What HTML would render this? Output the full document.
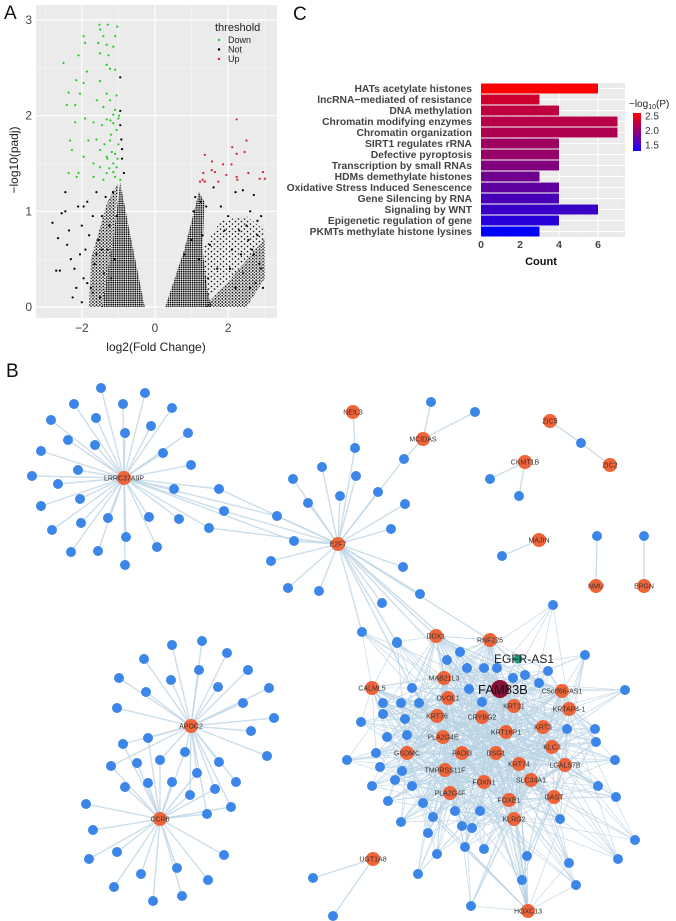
<!DOCTYPE html>
<html><head><meta charset="utf-8"><style>
html,body{margin:0;padding:0;background:#fff;}
svg{display:block;font-family:"Liberation Sans",Arial,sans-serif;}
</style></head><body>
<svg id="fig" width="676" height="921" viewBox="0 0 676 921" xmlns="http://www.w3.org/2000/svg">
<defs>
<pattern id="dotsDense" width="2.2" height="2.2" patternUnits="userSpaceOnUse"><circle cx="1.1" cy="1.1" r="0.85" fill="#000"/></pattern>
<pattern id="dotsMid" width="3.4" height="3.1" patternUnits="userSpaceOnUse"><circle cx="1.2" cy="1.2" r="0.85" fill="#000"/><circle cx="2.9" cy="2.7" r="0.7" fill="#000"/></pattern>
<pattern id="dotsSparse" width="6" height="5" patternUnits="userSpaceOnUse"><circle cx="1.5" cy="1.5" r="0.8" fill="#000"/><circle cx="4.5" cy="4" r="0.8" fill="#000"/></pattern>
</defs>
<text x="4" y="19" font-size="19" fill="#111">A</text>
<text x="293" y="20" font-size="19" fill="#111">C</text>
<text x="6" y="377" font-size="19" fill="#111">B</text>
<g id="volcano"></g>
<g id="bars"></g>
<g id="net"></g>
</svg>
<script>
// ---------- Panel A data ----------
const xTicksA = [-2, 0, 2];
const yTicksA = [0, 1, 2, 3];
const downX = [-1.52,-1.29,-1.03,-1.5,-1.95,-1.41,-1.09,-1.55,-1.91,-1.32,-1.14,-2.09,-1.5,-1.27,-2.5,-1.32,-1.23,-1.09,-1.86,-2.15,-1.5,-1.95,-2.36,-2.05,-1.32,-1.05,-1.59,-1.23,-2.18,-2.41,-1.41,-1.09,-1.14,-1.91,-1.32,-1.0,-2.18,-1.68,-1.14,-2.32,-1.82,-1.23,-2.27,-1.5,-1.09,-1.32,-1.95,-1.68,-1.14,-1.5,-2.36,-2.09,-1.32,-1.09,-1.68,-1.41,-1.05,-2.14,-1.14,-0.95,-1.2,-1.0,-1.3,-1.05,-1.45,-0.98,-1.25,-1.6,-1.18,-1.38,-1.02,-1.22];
const downY = [2.95,2.95,2.93,2.9,2.83,2.83,2.83,2.76,2.76,2.74,2.72,2.63,2.65,2.63,2.55,2.53,2.49,2.48,2.46,2.37,2.36,2.34,2.24,2.23,2.23,2.21,2.16,2.16,2.11,2.11,2.09,2.06,2.01,1.97,1.96,1.97,1.93,1.93,1.92,1.74,1.74,1.74,1.64,1.64,1.6,1.57,1.57,1.5,1.5,1.46,1.4,1.4,1.4,1.36,1.36,1.33,1.46,1.36,1.41,1.33,1.8,1.7,1.55,1.85,1.9,2.0,1.45,1.75,1.62,1.7,1.55,1.95];
const upX = [2.23,2.5,2.11,2.45,2.23,1.36,1.56,1.86,2.09,1.55,1.64,1.32,2.55,2.95,1.95,2.23,1.3,1.36,1.73,2.86,3.0,2.25,1.23];
const upY = [1.96,1.74,1.67,1.62,1.6,1.59,1.52,1.49,1.49,1.43,1.41,1.4,1.4,1.41,1.38,1.36,1.33,1.31,1.31,1.34,1.34,1.33,1.31];
const notX = [-2.8,-2.65,-2.55,-2.45,-2.4,-2.3,-2.25,-2.2,-2.1,-2.0,-1.95,-1.9,-1.85,-1.8,-1.75,-1.7,-1.65,-1.6,-1.55,-1.5,-1.45,-1.4,-1.35,-1.3,-1.25,-2.6,-2.7,-2.35,-2.15,-2.05,-1.95,-1.15,-1.1,-0.95,-0.95,-0.9,-0.9,-0.85,-0.95,-0.92,-2.45,1.1,1.25,1.4,1.6,1.8,2.0,2.2,2.4,2.7,2.6,2.8,2.5,2.3,2.9,1.9,2.1,2.7,2.9,2.4,2.2,2.6,1.5,1.7,1.2,1.0,0.8,2.95,2.8,-1.7,-1.85,-2.0,-1.6,-1.45,-1.2,-1.05,1.05,1.3,1.45,2.05,2.35,2.55,2.75,2.65,2.85];
const notY = [0.88,0.72,0.98,1.0,0.65,0.5,0.1,0.4,1.05,0.85,0.3,0.6,1.1,0.75,0.2,0.95,0.45,1.2,0.7,0.1,0.95,0.35,1.15,0.6,0.85,0.38,0.38,0.8,0.2,0.55,1.05,1.2,0.5,2.4,2.05,1.65,1.55,1.4,1.9,1.75,1.2,1.15,1.1,1.05,1.25,1.05,0.95,1.2,1.22,1.17,1.0,0.9,0.85,0.8,0.95,0.8,0.6,0.55,0.4,0.35,0.2,0.2,0.65,0.4,0.5,0.7,0.55,0.2,0.75,0.15,0.25,0.05,0.55,0.6,0.3,0.95,1.0,0.75,0.3,0.4,0.55,0.7,0.25,0.6,0.45];
// overplotted regions (data units), drawn with point textures
const leftDenseX = [-0.95,-0.7,-0.28,-1.45,-1.15];
const leftDenseY = [1.3,0.8,0.0,0.0,0.7];
const leftMidX = [-1.0,-1.3,-1.75,-1.8,-1.45,-1.15];
const leftMidY = [1.3,1.1,0.5,0.0,0.0,0.7];
const rightDenseX = [0.28,0.8,1.2,1.35,1.3,1.42,1.55];
const rightDenseY = [0.0,0.6,1.2,1.1,0.6,0.2,0.0];
const rightBandX = [1.35,2.2,3.0,3.0,2.5,1.9];
const rightBandY = [0.0,0.35,0.72,0.3,0.0,0.0];
const rightMidX = [1.3,1.8,2.5,3.0,3.0,2.2,1.4];
const rightMidY = [0.6,0.9,0.95,0.8,0.72,0.35,0.1];

// ---------- Panel C data ----------
const terms = ["HATs acetylate histones","lncRNA\u2212mediated of resistance","DNA methylation","Chromatin modifying enzymes","Chromatin organization","SIRT1 regulates rRNA","Defective pyroptosis","Transcription by small RNAs","HDMs demethylate histones","Oxidative Stress Induced Senescence","Gene Silencing by RNA","Signaling by WNT","Epigenetic regulation of gene","PKMTs methylate histone lysines"];
const counts = [6,3,4,7,7,4,4,4,3,4,4,6,4,3];
const logP = [2.75,2.45,2.35,2.3,2.25,2.15,2.1,1.95,1.85,1.75,1.6,1.5,1.4,1.15];
const countTicks = [0,2,4,6];
const legendTicks = [1.5,2.0,2.5];

const NS="http://www.w3.org/2000/svg";
function mk(tag,attrs,parent,txt){const e=document.createElementNS(NS,tag);for(const k in attrs)e.setAttribute(k,attrs[k]);if(txt!==undefined)e.textContent=txt;parent.appendChild(e);return e;}

// ---------- Panel A ----------
(function(){
 const g=document.getElementById('volcano');
 const L=36,R=277,T=5,B=318;
 const sx=v=>155+v*36.6, sy=v=>307-v*95.7;
 const bg=mk('rect',{x:L,y:T,width:R-L,height:B-T,fill:'#ebebeb'},g);
 
 
 [-3,-1,1,3].forEach(v=>{const l=mk('line',{x1:sx(v),x2:sx(v),y1:T,y2:B,stroke:'#f7f7f7','stroke-width':0.6},g);});
 [0.5,1.5,2.5].forEach(v=>{const l=mk('line',{x1:L,x2:R,y1:sy(v),y2:sy(v),stroke:'#f7f7f7','stroke-width':0.6},g);});
 xTicksA.forEach(v=>{
  const l=mk('line',{x1:sx(v),x2:sx(v),y1:T,y2:B,stroke:'#fff','stroke-width':1.2},g);
  
  const t=mk('text',{x:sx(v),y:B+14,'font-size':12,'text-anchor':'middle',fill:'#444'},g,v===0?'0':(v<0?'\u2212'+(-v):String(v)));
  
 });
 yTicksA.forEach(v=>{
  const l=mk('line',{x1:L,x2:R,y1:sy(v),y2:sy(v),stroke:'#fff','stroke-width':1.2},g);
  
  const t=mk('text',{x:L-4,y:sy(v)+4,'font-size':12,'text-anchor':'end',fill:'#444'},g,String(v));
  
 });
 const pl=(xs,ys)=>xs.map((x,i)=>sx(x)+','+sy(ys[i])).join(' ');
 const regions=[[leftMidX,leftMidY,'dotsMid'],[leftDenseX,leftDenseY,'dotsDense'],[rightMidX,rightMidY,'dotsSparse'],[rightDenseX,rightDenseY,'dotsDense'],[rightBandX,rightBandY,'dotsMid']];
 regions.forEach(r=>{
  const p=mk('polygon',{points:pl(r[0],r[1]),fill:'url(#'+r[2]+')'},g);
  
  
 });
 notX.forEach((x,i)=>{const c=mk('circle',{cx:sx(x),cy:sy(notY[i]),r:1.1,fill:'#000'},g);});
 downX.forEach((x,i)=>{const c=mk('circle',{cx:sx(x),cy:sy(downY[i]),r:1.1,fill:'#22cc22'},g);});
 upX.forEach((x,i)=>{const c=mk('circle',{cx:sx(x),cy:sy(upY[i]),r:1.1,fill:'#d42030'},g);});
 const yt=mk('text',{x:0,y:0,'font-size':12,'text-anchor':'middle',fill:'#222',transform:'translate(18,160) rotate(-90)'},g,'\u2212log10(padj)');
 
 const xt=mk('text',{x:156,y:351,'font-size':12,'text-anchor':'middle',fill:'#222'},g,'log2(Fold Change)');
 
 const lt=mk('text',{x:215,y:31,'font-size':11,fill:'#222'},g,'threshold');
 
 [['Down','#22cc22'],['Not','#000'],['Up','#d42030']].forEach((e,i)=>{
  const y=43+i*9.5;
  const c=mk('circle',{cx:219,cy:y-3,r:1.2,fill:e[1]},g);
  const t=mk('text',{x:228,y:y,'font-size':9,fill:'#222'},g,e[0]);
 });
})();

// ---------- Panel C ----------
(function(){
 const g=document.getElementById('bars');
 const L=481,R=625,T=83,B=237;
 const sx=v=>L+v*19.5;
 const band=(B-T)/terms.length;
 const bg=mk('rect',{x:L,y:T,width:R-L,height:B-T,fill:'#ebebeb'},g);
 
 [1,3,5,7].forEach(v=>{const l=mk('line',{x1:sx(v),x2:sx(v),y1:T,y2:B,stroke:'#f5f5f5','stroke-width':0.5},g);});
 countTicks.forEach(v=>{
  const l=mk('line',{x1:sx(v),x2:sx(v),y1:T,y2:B,stroke:'#fff','stroke-width':1},g);
  const t=mk('text',{x:sx(v),y:B+11,'font-size':10.5,'text-anchor':'middle',fill:'#444','font-weight':'bold'},g,String(v));
 });
 const lo=1.15,hi=2.75;
 const col=v=>{const f=Math.max(0,Math.min(1,(v-lo)/(hi-lo)));return 'rgb('+Math.round(255*f)+',0,'+Math.round(255*(1-f))+')';};
 terms.forEach((tm,i)=>{
  const cy=T+band*(i+0.5);
  const l=mk('line',{x1:L,x2:R,y1:cy,y2:cy,stroke:'#fff','stroke-width':1},g);
  const r=mk('rect',{x:L,y:cy-band*0.45,width:sx(counts[i])-L,height:band*0.9,fill:col(logP[i])},g);
  
  const t=mk('text',{x:L-9,y:cy+3.6,'font-size':10.3,'text-anchor':'end',fill:'#444','font-weight':'bold'},g,tm);
  
 });
 const xt=mk('text',{x:541,y:265,'font-size':11,'text-anchor':'middle',fill:'#111','font-weight':'bold'},g,'Count');
 
 const lt=mk('text',{x:629,y:107,'font-size':10,fill:'#222'},g);
 
 mk('tspan',{},lt,'\u2212log');mk('tspan',{'font-size':7,dy:2},lt,'10');mk('tspan',{dy:-2},lt,'(P)');
 const defs=mk('defs',{},g);
 const gr=mk('linearGradient',{id:'cb',x1:0,y1:0,x2:0,y2:1},defs);
 mk('stop',{offset:0,'stop-color':'#ff0000'},gr);mk('stop',{offset:1,'stop-color':'#1a00ff'},gr);
 const cbT=113,cbB=151;
 const cb=mk('rect',{x:633,y:cbT,width:8,height:cbB-cbT,fill:'url(#cb)'},g);
 
 const ly=v=>cbB-(v-1.3)/(2.6-1.3)*(cbB-cbT);
 legendTicks.forEach(v=>{
  const t=mk('text',{x:645,y:ly(v)+3.5,'font-size':10,fill:'#333'},g,v.toFixed(1));
  
 });
})();

// ---------- Panel B (network) ----------
const stars = [
 {name:'LRRC37A9P',x:124,y:478,leaves:[[101,388],[145,393],[74,404],[123,404],[172,408],[51,420],[96,418],[151,426],[125,433],[188,433],[68,440],[95,445],[41,451],[163,453],[191,465],[78,470],[32,476],[58,484],[174,489],[219,489],[80,499],[41,506],[224,511],[108,518],[149,517],[179,519],[277,516],[81,523],[209,528],[52,530],[126,537],[294,541],[157,547],[71,552],[98,551],[125,565]]},
 {name:'E2F7',x:338,y:544,leaves:[[219,489],[224,511],[277,516],[209,528],[294,541],[271,561],[288,588],[319,591],[355,448],[404,459],[322,467],[293,479],[356,476],[340,496],[378,492],[308,503],[405,504],[391,529],[403,567],[420,594],[382,603],[362,632],[397,643],[436,636],[412,688],[460,652],[447,660],[490,640]]},
 {name:'APOC2',x:191,y:726,leaves:[[172,645],[202,641],[144,659],[227,653],[199,670],[119,678],[171,680],[248,670],[146,692],[218,687],[269,688],[117,708],[243,703],[274,718],[251,731],[148,738],[123,744],[267,756],[185,752],[111,766],[219,762],[197,773],[236,782],[190,795],[215,789],[231,807],[207,814],[160,760]]},
 {name:'CCR6',x:160,y:819,leaves:[[148,738],[123,744],[185,752],[111,766],[137,763],[160,760],[197,773],[125,787],[148,783],[172,782],[190,795],[215,789],[86,804],[231,807],[207,814],[93,830],[117,852],[89,859],[224,855],[177,868],[141,874],[208,880],[114,887],[153,901],[182,896]]},
 {name:'NEIL3',x:353,y:412,leaves:[[355,448]]},
 {name:'MCIDAS',x:423,y:439,leaves:[[431,402],[475,412],[404,459]]},
 {name:'ZIC5',x:550,y:421,leaves:[[581,443]]},
 {name:'ZIC2',x:610,y:465,leaves:[[581,443]]},
 {name:'CKMT1B',x:525,y:462,leaves:[[490,479],[519,496]]},
 {name:'MAJIN',x:539,y:540,leaves:[[502,556]]},
 {name:'NMU',x:596,y:586,leaves:[[597,536]]},
 {name:'EPGN',x:644,y:586,leaves:[[644,536]]},
 {name:'UGT1A8',x:373,y:859,leaves:[[313,878],[333,916]]}
];
const denseHubs = [
 ['DDX1',436,636],['RNF225',490,640],['MAB21L3',444,678],['CALML5',372,688],['OVOL1',448,698],['C5orf66-AS1',562,691],['KRT31',514,706],['KRTAP4-1',569,709],['KRT76',437,716],['CRYBG2',482,717],['KRT3',543,727],['KRT16P1',506,732],['PLA2G4E',443,737],['KLC3',552,747],['GSDMC',407,753],['PADI3',462,753],['DSG1',496,753],['KRT74',519,764],['LGALS7B',565,765],['TMPRSS11F',445,770],['SLC34A1',531,780],['FOXN1',484,782],['PLA2G4F',450,793],['GAST',554,797],['FOXE1',509,800],['KLRG2',514,819],['HOXC13',528,911]
];
const denseLeaves = [[553,605],[362,632],[397,642],[460,652],[447,660],[467,668],[484,668],[497,668],[525,675],[513,678],[548,671],[585,655],[539,683],[412,688],[469,689],[625,690],[383,703],[401,703],[419,703],[482,702],[383,714],[361,722],[405,719],[567,729],[595,729],[387,737],[407,735],[596,742],[347,760],[376,753],[380,767],[402,771],[615,760],[372,786],[395,780],[412,786],[598,786],[616,797],[388,801],[423,803],[455,811],[480,811],[560,819],[401,822],[433,817],[462,826],[472,828],[428,833],[635,840],[465,847],[484,849],[527,856],[437,854],[618,859],[569,863],[418,874],[522,880],[576,885],[471,906]];

(function(){
 const g=document.getElementById('net');
 const eg=mk('g',{stroke:'#b9d3e4','stroke-width':1.1,'stroke-opacity':0.75},g);
 
 const edge=(a,b,w)=>{const l=mk('line',{x1:a[0],y1:a[1],x2:b[0],y2:b[1]},eg);if(w)l.setAttribute('stroke-width',w);};
 stars.forEach(s=>s.leaves.forEach(p=>edge([s.x,s.y],p,1.4)));
 const all=denseHubs.map(h=>[h[1],h[2]]).concat(denseLeaves);
 denseHubs.forEach((h,i)=>{
  all.forEach((p,j)=>{
   const d=Math.hypot(p[0]-h[1],p[1]-h[2]);
   if(d>1 && (d<70 || (i*7+j*3)%5===0)) edge([h[1],h[2]],p,0.8);
  });
 });
 const fam=[500,689];
 all.forEach((p,j)=>{ if(j%2===0) edge(fam,p,0.8); });
 edge([518,659],fam,1.2);
 const drawNode=(x,y,r,fill,name)=>{const c=mk('circle',{cx:x,cy:y,r:r,fill:fill},g);};
 const seen=new Set();
 const leafList=[];
 stars.forEach(s=>s.leaves.forEach(p=>leafList.push(p)));
 denseLeaves.forEach(p=>leafList.push(p));
 leafList.forEach(p=>{const k=p[0]+','+p[1];if(seen.has(k))return;seen.add(k);drawNode(p[0],p[1],5,'#3b86e8','mrna-node');});
 const label=(x,y,t,fs)=>{const e=mk('text',{x:x,y:y,'font-size':fs,'text-anchor':'middle',fill:'#333'},g,t);};
 stars.forEach(s=>{drawNode(s.x,s.y,7,'#f0643a','lncrna-node');label(s.x,s.y+2.5,s.name,7);});
 denseHubs.forEach(h=>{drawNode(h[1],h[2],7,'#f0643a','lncrna-node');label(h[1],h[2]+2.5,h[0],7);});
 drawNode(518,659,4.5,'#1f9a80','egfr-as1-node');
 drawNode(500,689,9,'#8b1038','fam83b-node');
 const t1=mk('text',{x:494,y:663,'font-size':12,fill:'#222'},g,'EGFR-AS1');
 const t2=mk('text',{x:478,y:694,'font-size':13,fill:'#111'},g,'FAM83B');
})();
</script>
</body></html>
